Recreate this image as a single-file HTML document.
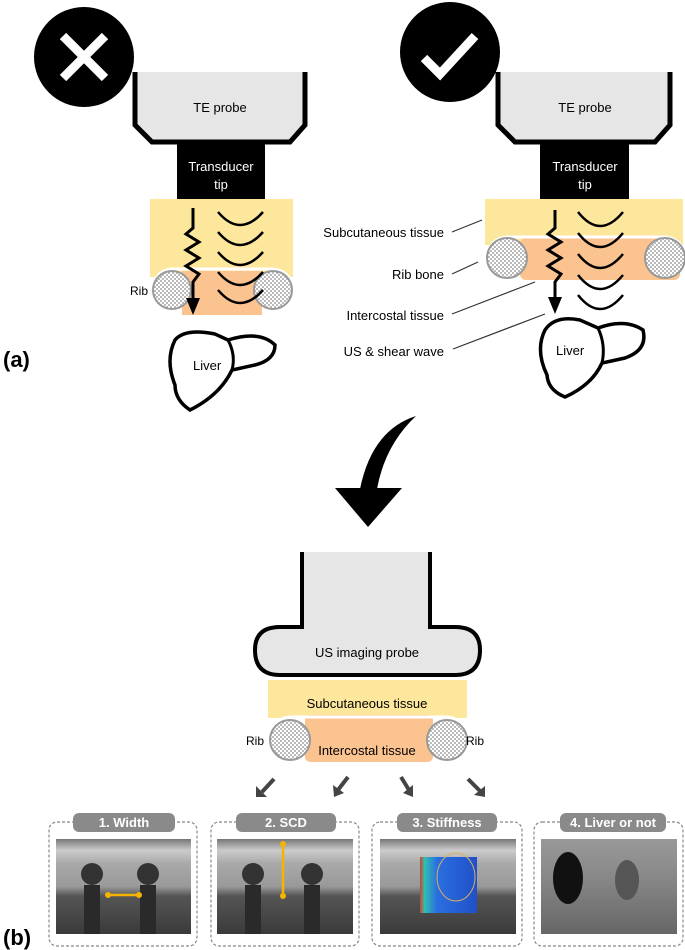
<!DOCTYPE html>
<html><head><meta charset="utf-8"><style>
body{margin:0;background:#fff}
svg{display:block;font-family:"Liberation Sans",sans-serif}
</style></head><body>
<svg width="685" height="950" viewBox="0 0 685 950" xmlns="http://www.w3.org/2000/svg">
<defs>
<pattern id="dots" width="4" height="4" patternUnits="userSpaceOnUse"><rect width="4" height="4" fill="#fff"/><circle cx="1" cy="1" r="0.9" fill="#888"/><circle cx="3" cy="3" r="0.9" fill="#888"/></pattern>
<linearGradient id="us" x1="0" y1="0" x2="0" y2="1"><stop offset="0" stop-color="#777"/><stop offset="0.12" stop-color="#ccc"/><stop offset="0.25" stop-color="#aaa"/><stop offset="0.5" stop-color="#999"/><stop offset="0.6" stop-color="#555"/><stop offset="1" stop-color="#3a3a3a"/></linearGradient>
<linearGradient id="us2" x1="0" y1="0" x2="0" y2="1"><stop offset="0" stop-color="#999"/><stop offset="0.4" stop-color="#888"/><stop offset="1" stop-color="#666"/></linearGradient>
<linearGradient id="stf" x1="0" y1="0" x2="1" y2="0"><stop offset="0" stop-color="#d0402a"/><stop offset="0.08" stop-color="#30c0b0"/><stop offset="0.3" stop-color="#2a6ee0"/><stop offset="1" stop-color="#2050c8"/></linearGradient>
</defs>

<!-- LEFT PANEL -->
<circle cx="84" cy="57" r="50" fill="#000"/>
<path d="M63 36 L105 78 M105 36 L63 78" stroke="#fff" stroke-width="9"/>
<path d="M135 72 L135 125 L152 142 L290 142 L305 125 L305 72" fill="#e6e6e6" stroke="#000" stroke-width="5"/>
<text x="220" y="112" font-size="13" text-anchor="middle">TE probe</text>
<rect x="177" y="143" width="88" height="63" fill="#000"/>
<text x="221" y="171" font-size="13" fill="#fff" text-anchor="middle">Transducer</text>
<text x="221" y="189" font-size="13" fill="#fff" text-anchor="middle">tip</text>
<rect x="150" y="199" width="143" height="78" fill="#fde79c"/>
<rect x="182" y="271" width="80" height="44" fill="#fbc38f"/>
<path d="M154 287 Q156 270 172 269 L272 269 Q290 270 292 287" fill="none" stroke="#fff" stroke-width="3"/>
<circle cx="172" cy="290" r="19" fill="url(#dots)" stroke="#999" stroke-width="2"/>
<circle cx="273" cy="290" r="19" fill="url(#dots)" stroke="#999" stroke-width="2"/>
<text x="130" y="295" font-size="12">Rib</text>
<path d="M193 208 L193 228 L186 234 L199 242 L186 250 L199 258 L186 266 L199 274 L193 282 L193 300" fill="none" stroke="#000" stroke-width="3"/>
<path d="M186 298 L200 298 L193 315 Z" fill="#000"/>
<g fill="none" stroke="#000" stroke-width="2.5">
<path d="M218 212 Q240 238 263 212"/><path d="M218 232 Q240 258 263 232"/><path d="M218 252 Q240 278 263 252"/><path d="M218 272 Q240 298 263 272"/><path d="M218 290 Q240 316 263 290"/>
</g>
<path d="M175 340 Q185 328 215 334 L228 340 Q260 330 275 345 Q275 360 255 365 L232 370 Q220 395 190 410 Q175 400 175 385 Q165 360 175 340 Z" fill="#fff" stroke="#000" stroke-width="3.5"/>
<path d="M228 340 Q236 355 232 370" fill="none" stroke="#000" stroke-width="3"/>
<text x="193" y="370" font-size="13">Liver</text>
<text x="3" y="367" font-size="22" font-weight="bold">(a)</text>

<!-- RIGHT PANEL -->
<circle cx="450" cy="52" r="50" fill="#000"/>
<path d="M424 58 L440 74 L475 36" fill="none" stroke="#fff" stroke-width="9"/>
<path d="M498 72 L498 125 L515 142 L655 142 L670 125 L670 72" fill="#e6e6e6" stroke="#000" stroke-width="5"/>
<text x="585" y="112" font-size="13" text-anchor="middle">TE probe</text>
<rect x="540" y="143" width="89" height="63" fill="#000"/>
<text x="585" y="171" font-size="13" fill="#fff" text-anchor="middle">Transducer</text>
<text x="585" y="189" font-size="13" fill="#fff" text-anchor="middle">tip</text>
<rect x="485" y="199" width="198" height="46" fill="#fde79c"/>
<rect x="520" y="238" width="160" height="42" rx="6" fill="#fbc38f"/>
<path d="M488 256 Q490 238 507 237 L665 237 Q682 238 684 256" fill="none" stroke="#fff" stroke-width="3"/>
<circle cx="507" cy="258" r="20" fill="url(#dots)" stroke="#999" stroke-width="2"/>
<circle cx="665" cy="258" r="20" fill="url(#dots)" stroke="#999" stroke-width="2"/>
<path d="M555 210 L555 228 L548 234 L561 242 L548 250 L561 258 L548 266 L561 274 L555 282 L555 300" fill="none" stroke="#000" stroke-width="3"/>
<path d="M548 297 L562 297 L555 314 Z" fill="#000"/>
<g fill="none" stroke="#000" stroke-width="2.5">
<path d="M578 212 Q600 240 623 212"/><path d="M578 233 Q600 261 623 233"/><path d="M578 254 Q600 282 623 254"/><path d="M578 275 Q600 303 623 275"/><path d="M578 295 Q600 323 623 295"/>
</g>
<g stroke="#333" stroke-width="1.2">
<line x1="452" y1="232" x2="482" y2="220"/><line x1="452" y1="274" x2="478" y2="262"/><line x1="452" y1="314" x2="535" y2="282"/><line x1="453" y1="349" x2="545" y2="314"/>
</g>
<g font-size="13" text-anchor="end">
<text x="444" y="237">Subcutaneous  tissue</text>
<text x="444" y="279">Rib bone</text>
<text x="444" y="320">Intercostal  tissue</text>
<text x="444" y="356">US &amp; shear wave</text>
</g>
<path d="M545 330 Q555 315 580 320 L598 328 Q625 318 643 330 Q648 350 625 358 L602 363 Q592 385 565 397 Q548 390 547 375 Q535 350 545 330 Z" fill="#fff" stroke="#000" stroke-width="3.5"/>
<path d="M598 328 Q606 345 602 363" fill="none" stroke="#000" stroke-width="3"/>
<text x="556" y="355" font-size="13">Liver</text>

<!-- curved arrow -->
<path d="M416 416 Q372 430 360 489 L377 489 Q385 445 416 416 Z" fill="#000"/>
<path d="M335 488 L402 488 L368 527 Z" fill="#000"/>

<!-- US probe -->
<path d="M302 552 L302 627 L280 627 Q255 627 255 650 Q255 675 280 675 L455 675 Q480 675 480 650 Q480 627 455 627 L430 627 L430 552" fill="#e6e6e6" stroke="#000" stroke-width="4"/>
<text x="367" y="657" font-size="13" text-anchor="middle">US imaging  probe</text>
<rect x="268" y="680" width="199" height="38" fill="#fde79c"/>
<rect x="305" y="715" width="128" height="47" rx="5" fill="#fbc38f"/>
<path d="M272 738 Q274 718 290 717 L447 717 Q463 718 465 738" fill="none" stroke="#fff" stroke-width="3"/>
<text x="367" y="708" font-size="13" text-anchor="middle">Subcutaneous  tissue</text>
<text x="367" y="755" font-size="13" text-anchor="middle">Intercostal  tissue</text>
<circle cx="290" cy="740" r="20" fill="url(#dots)" stroke="#999" stroke-width="2"/>
<circle cx="447" cy="740" r="20" fill="url(#dots)" stroke="#999" stroke-width="2"/>
<text x="246" y="745" font-size="12">Rib</text>
<text x="466" y="745" font-size="12">Rib</text>

<!-- small arrows -->
<g stroke="#444" stroke-width="4" fill="none">
<line x1="274" y1="779" x2="262" y2="792"/><line x1="348" y1="777" x2="338" y2="790"/><line x1="401" y1="777" x2="409" y2="790"/><line x1="468" y1="779" x2="480" y2="791"/>
</g>
<g fill="#444">
<path d="M256 786 L256 797 L267 797 Z"/><path d="M333 785 L334 797 L344 793 Z"/><path d="M403 793 L413 797 L413 785 Z"/><path d="M474 795 L485 797 L485 786 Z"/>
</g>

<!-- panels -->
<g fill="none" stroke="#888" stroke-width="1.2" stroke-dasharray="3,2">
<rect x="49" y="822" width="148" height="124" rx="8"/>
<rect x="211" y="822" width="148" height="124" rx="8"/>
<rect x="372" y="822" width="150" height="124" rx="8"/>
<rect x="534" y="822" width="149" height="124" rx="8"/>
</g>
<rect x="56" y="839" width="135" height="95" fill="url(#us)"/>
<rect x="217" y="839" width="136" height="95" fill="url(#us)"/>
<rect x="380" y="839" width="136" height="95" fill="url(#us)"/>
<rect x="541" y="839" width="136" height="95" fill="url(#us2)"/>
<g fill="#333"><circle cx="92" cy="874" r="11"/><circle cx="148" cy="874" r="11"/><circle cx="253" cy="874" r="11"/><circle cx="312" cy="874" r="11"/></g>
<rect x="84" y="885" width="16" height="49" fill="#2a2a2a"/><rect x="140" y="885" width="16" height="49" fill="#2a2a2a"/>
<rect x="245" y="885" width="16" height="49" fill="#2a2a2a"/><rect x="304" y="885" width="16" height="49" fill="#2a2a2a"/>
<rect x="420" y="857" width="57" height="56" fill="url(#stf)"/>
<ellipse cx="456" cy="877" rx="19" ry="24" fill="none" stroke="#d8b060" stroke-width="1"/>
<ellipse cx="568" cy="878" rx="15" ry="26" fill="#111"/>
<ellipse cx="627" cy="880" rx="12" ry="20" fill="#555"/>
<g stroke="#f5b400" stroke-width="2.5"><line x1="108" y1="895" x2="139" y2="895"/><line x1="283" y1="844" x2="283" y2="896"/></g>
<g fill="#f5b400"><circle cx="108" cy="895" r="3"/><circle cx="139" cy="895" r="3"/><circle cx="283" cy="844" r="3"/><circle cx="283" cy="896" r="3"/></g>
<g fill="#8a8a8a">
<rect x="73" y="813" width="102" height="19" rx="6"/>
<rect x="236" y="813" width="100" height="19" rx="6"/>
<rect x="397" y="813" width="100" height="19" rx="6"/>
<rect x="560" y="813" width="106" height="19" rx="6"/>
</g>
<g fill="#fff" font-size="13" font-weight="bold" text-anchor="middle">
<text x="124" y="827">1. Width</text><text x="286" y="827">2. SCD</text><text x="447" y="827">3. Stiffness</text><text x="613" y="827">4. Liver or not</text>
</g>
<text x="3" y="945" font-size="22" font-weight="bold">(b)</text>
</svg>
</body></html>
